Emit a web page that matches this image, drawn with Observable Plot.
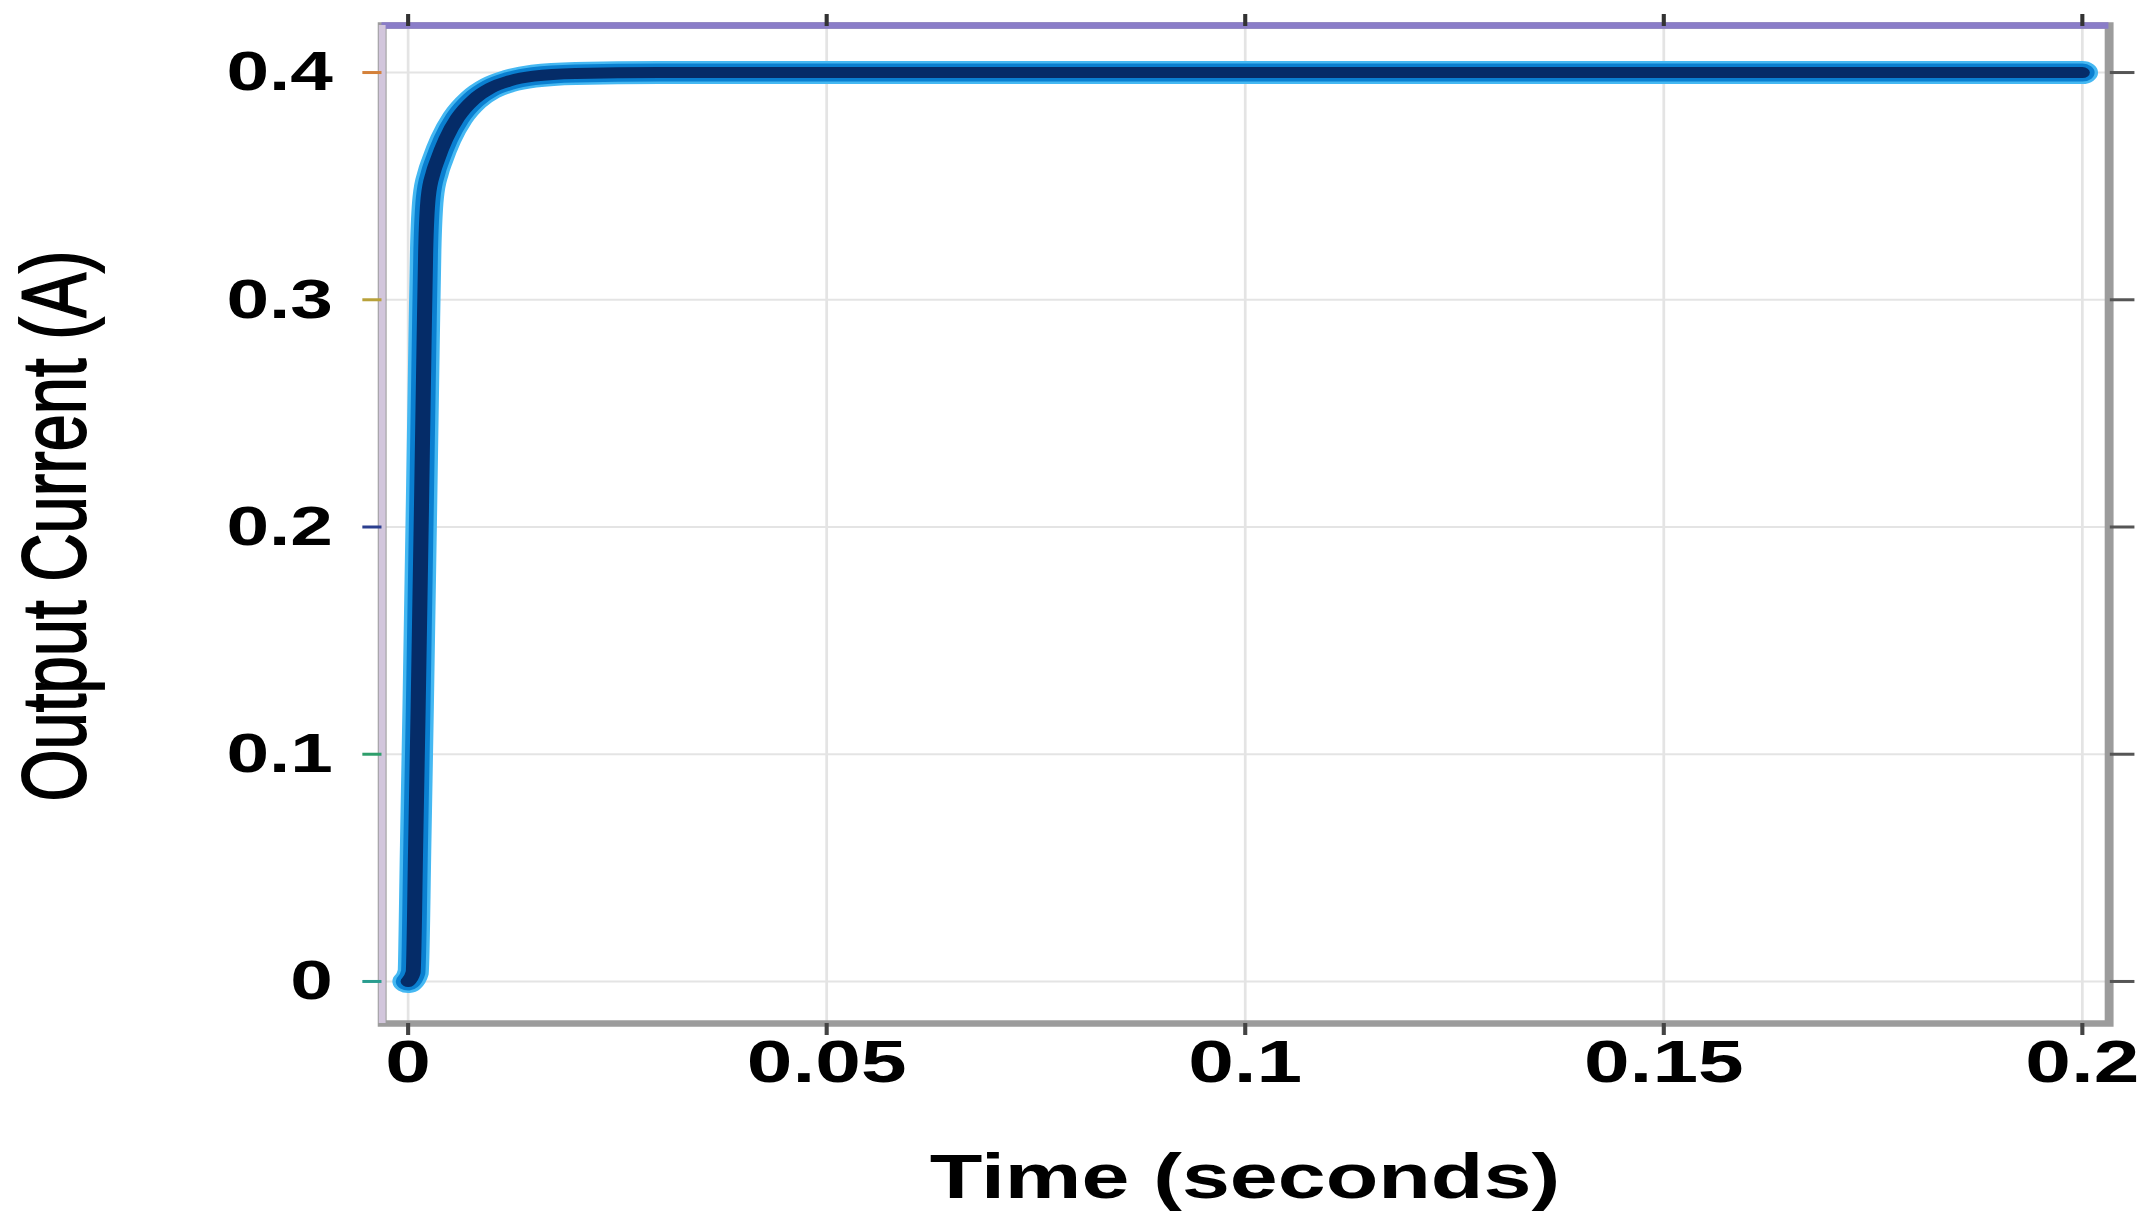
<!DOCTYPE html>
<html><head><meta charset="utf-8">
<script src="https://cdn.jsdelivr.net/npm/d3@7"></script>
<script src="https://cdn.jsdelivr.net/npm/@observablehq/plot@0.6"></script>
<style>html,body{margin:0;padding:0;background:#fff;overflow:hidden}</style>
</head><body><div id="chart"></div>
<script>
// ---- data ----
const time    = [0, 0.0006, 0.0009, 0.0012, 0.0016, 0.0019, 0.0021, 0.0024, 0.0030, 0.0035, 0.0045, 0.0059, 0.0078, 0.0098, 0.0120, 0.0150, 0.0200, 0.0300, 0.0500, 0.1000, 0.1500, 0.2000];
const current = [0, 0.004, 0.06, 0.121, 0.21, 0.28, 0.322, 0.345, 0.356, 0.3615, 0.3707, 0.380, 0.388, 0.3931, 0.3962, 0.3984, 0.3996, 0.4, 0.4, 0.4, 0.4, 0.4];
const xTicks = [0, 0.05, 0.1, 0.15, 0.2];
const xTickLabels = ["0", "0.05", "0.1", "0.15", "0.2"];
const yTicks = [0, 0.1, 0.2, 0.3, 0.4];
const yTickLabels = ["0", "0.1", "0.2", "0.3", "0.4"];
const xDomain = [-0.0031, 0.2032];
const yDomain = [-0.0185, 0.4207];
const xTitle = "Time (seconds)";
const yTitle = "Output Current (A)";
const leftTickColors = ["#2a9d8f", "#2e9e6b", "#2b3f8f", "#b8a13a", "#d4813a"];

const data = time.map((t, k) => ({t, i: current[k]}));
const W = 1568, H = 1230, OUT_W = 2144;
const ML = 279, MR = 26, MT = 25, MB = 207;

const lineOpts = {x: "t", y: "i", curve: "monotone-x", strokeLinecap: "round", strokeLinejoin: "round"};

const svg = Plot.plot({
  width: W, height: H,
  marginLeft: ML, marginRight: MR, marginTop: MT, marginBottom: MB,
  style: {fontFamily: "'Liberation Sans', Arial, sans-serif", background: "#fff", color: "#000"},
  x: {domain: xDomain},
  y: {domain: yDomain},
  marks: [
    Plot.gridX(xTicks, {stroke: "#e4e4e4", strokeOpacity: 1, strokeWidth: 2}),
    Plot.gridY(yTicks, {stroke: "#e4e4e4", strokeOpacity: 1, strokeWidth: 2}),
    Plot.frame({stroke: "#9c9c9c", strokeWidth: 6.5}),
    Plot.ruleY([yDomain[1]], {stroke: "#8a7dc8", strokeWidth: 6.5}),
    Plot.ruleX([xDomain[0]], {stroke: "#d2c6dc", strokeWidth: 5}),
    Plot.axisX({anchor: "bottom", ticks: xTicks, tickFormat: d => xTickLabels[xTicks.indexOf(d)],
      tickSize: 12, tickPadding: 4, fontSize: 60, fontWeight: "bold", stroke: "#444", strokeWidth: 3, label: null}),
    Plot.axisX({anchor: "top", ticks: xTicks, tickFormat: () => "", tickSize: 12, stroke: "#333", strokeWidth: 3, label: null}),
    Plot.axisY({anchor: "left", ticks: yTicks, tickFormat: d => yTickLabels[yTicks.indexOf(d)],
      tickSize: 14, tickPadding: 22, fontSize: 56, fontWeight: "bold",
      stroke: d => leftTickColors[yTicks.indexOf(d)], strokeWidth: 3, label: null}),
    Plot.axisY({anchor: "right", ticks: yTicks, tickFormat: () => "", tickSize: 18, stroke: "#555", strokeWidth: 3, label: null}),
    Plot.line(data, {...lineOpts, stroke: "#45b8f2", strokeWidth: 23}),
    Plot.line(data, {...lineOpts, stroke: "#0a7fd0", strokeWidth: 18}),
    Plot.line(data, {...lineOpts, stroke: "#052c68", strokeWidth: 11})
  ]
});

const s = d3.select(svg);
s.append("text")
  .attr("x", (ML + (W - MR)) / 2).attr("y", 1198)
  .attr("text-anchor", "middle").attr("font-size", 63).attr("font-weight", "bold")
  .attr("fill", "#000").text(xTitle);
s.append("text")
  .attr("transform", "translate(62,526) rotate(-90)")
  .attr("text-anchor", "middle").attr("font-size", 67).attr("font-weight", "normal")
  .attr("fill", "#000").attr("stroke", "#000").attr("stroke-width", 1.4)
  .text(yTitle);

svg.setAttribute("width", OUT_W);
svg.setAttribute("height", H);
svg.setAttribute("preserveAspectRatio", "none");
svg.style.width = OUT_W + "px";
svg.style.height = H + "px";
svg.style.maxWidth = "none";
svg.style.display = "block";
document.getElementById("chart").appendChild(svg);
</script>
</body></html>
